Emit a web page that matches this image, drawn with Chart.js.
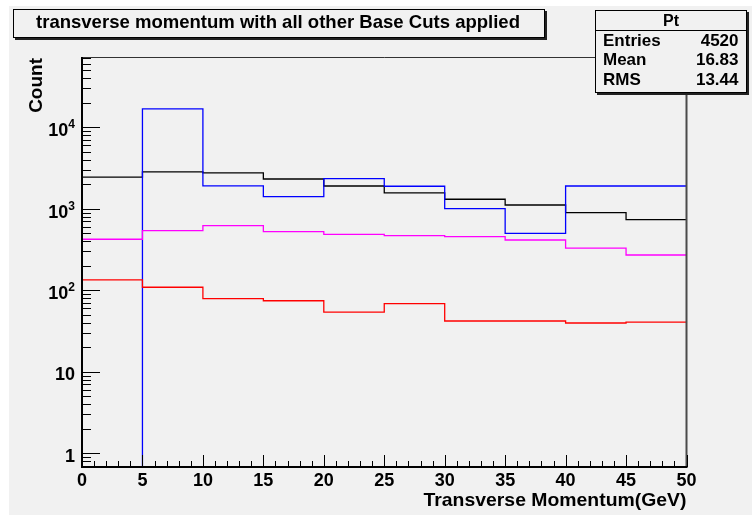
<!DOCTYPE html>
<html>
<head>
<meta charset="utf-8">
<script src="https://cdn.jsdelivr.net/npm/chart.js@4.4.1/dist/chart.umd.min.js"></script>
<style>
  html, body { margin: 0; padding: 0; background: #fff; }
  canvas { display: block; }
</style>
</head>
<body>
<canvas id="pt" width="752" height="515"></canvas>
<script>
// Pt distributions, 5 GeV bins
const binEdges = [0, 5, 10, 15, 20, 25, 30, 35, 40, 45, 50];
const blackCounts = [2440, 2830, 2760, 2320, 1905, 1565, 1310, 1113, 896, 735];
const blueCounts = [0, 16800, 1910, 1410, 2340, 1890, 1003, 500, 1905, 1905];
const magentaCounts = [423, 539, 620, 524, 486, 468, 455, 414, 330, 271];
const redCounts = [134, 109, 79, 74.5, 54, 68.5, 42, 42, 39.7, 40.8];

const xTickValues = [0, 5, 10, 15, 20, 25, 30, 35, 40, 45, 50];
const yDecades = [1, 10, 100, 1000, 10000];
const yMin = 0.68;
const yMax = 72800;

const titleText = 'transverse momentum with all other Base Cuts applied';
const xTitle = 'Transverse Momentum(GeV)';
const yTitle = 'Count';
const statsName = 'Pt';
const statsLabels = ['Entries', 'Mean', 'RMS'];
const statsValues = ['4520', '16.83', '13.44'];

const FONT = '"Liberation Sans", Arial, Helvetica, sans-serif';

// left edge of each bin plus a closing point at the last edge
function histPoints(counts) {
    const pts = counts.map((c, i) => ({ x: binEdges[i], y: Math.max(c, yMin) }));
    pts.push({ x: binEdges[binEdges.length - 1], y: Math.max(counts[counts.length - 1], yMin) });
    return pts;
}

function histDataset(counts, color) {
    return {
        data: histPoints(counts),
        borderColor: color,
        borderWidth: 1.3,
        stepped: 'before',
        pointRadius: 0,
        fill: false
    };
}

// text stretched or squeezed to a given width
function fitText(ctx, text, x, y, width, align) {
    const w = ctx.measureText(text).width;
    const sx = width / w;
    ctx.save();
    ctx.translate(x, y);
    ctx.scale(sx, 1);
    ctx.textAlign = align;
    ctx.fillText(text, 0, 0);
    ctx.restore();
}

function shadowBox(ctx, x0, y0, x1, y1) {
    ctx.fillStyle = '#222';
    ctx.fillRect(x0 + 2, y0 + 2, x1 - x0, y1 - y0);
    ctx.fillStyle = '#f1f1f1';
    ctx.fillRect(x0, y0, x1 - x0, y1 - y0);
    ctx.strokeStyle = '#000';
    ctx.lineWidth = 1;
    ctx.strokeRect(x0 + 0.5, y0 + 0.5, x1 - x0 - 1, y1 - y0 - 1);
}

const rootStyle = {
    id: 'rootStyle',
    beforeDraw(chart) {
        const ctx = chart.ctx;
        ctx.save();
        ctx.fillStyle = '#fff';
        ctx.fillRect(0, 0, chart.width, chart.height);
        ctx.fillStyle = '#f1f1f1';
        ctx.fillRect(9, 6, chart.width - 9, chart.height - 6);
        ctx.restore();
    },
    afterDraw(chart) {
        const ctx = chart.ctx;
        const area = chart.chartArea;
        const xs = chart.scales.x;
        const ys = chart.scales.y;
        ctx.save();

        // frame
        ctx.strokeStyle = '#333';
        ctx.lineWidth = 1;
        ctx.beginPath();
        ctx.moveTo(area.left, area.top + 0.5);
        ctx.lineTo(area.right, area.top + 0.5);
        ctx.stroke();
        ctx.strokeStyle = '#4a4a4a';
        ctx.lineWidth = 2;
        ctx.beginPath();
        ctx.moveTo(area.right, area.top);
        ctx.lineTo(area.right, area.bottom);
        ctx.stroke();
        ctx.strokeStyle = '#000';
        ctx.beginPath();
        ctx.moveTo(area.left, area.top);
        ctx.lineTo(area.left, area.bottom);
        ctx.lineTo(area.right + 1, area.bottom);
        ctx.stroke();

        // y ticks, decades and 2..9 minors
        ctx.lineWidth = 1;
        ctx.beginPath();
        for (let e = -1; e <= 4; e++) {
            for (let k = 1; k <= 9; k++) {
                const v = k * Math.pow(10, e);
                if (v < yMin || v > yMax) continue;
                const py = Math.round(ys.getPixelForValue(v)) + 0.5;
                const len = k === 1 ? 18 : 9;
                ctx.moveTo(area.left, py);
                ctx.lineTo(area.left + len, py);
            }
        }
        // x ticks every 1, long every 5
        for (let v = 0; v <= 50; v++) {
            const px = Math.round(xs.getPixelForValue(v)) + 0.5;
            const len = v % 5 === 0 ? 12 : 6;
            ctx.moveTo(px, area.bottom);
            ctx.lineTo(px, area.bottom - len);
        }
        ctx.stroke();

        // tick labels
        ctx.fillStyle = '#000';
        ctx.textBaseline = 'alphabetic';
        ctx.font = 'bold 18px ' + FONT;
        ctx.textAlign = 'center';
        xTickValues.forEach(v => {
            ctx.fillText(String(v), xs.getPixelForValue(v), area.bottom + 19);
        });
        yDecades.forEach(v => {
            const py = ys.getPixelForValue(v);
            const right = area.left - 7;
            ctx.font = 'bold 18px ' + FONT;
            if (v < 100) {
                ctx.textAlign = 'right';
                ctx.fillText(String(v), right, py + 8.5);
            } else {
                const exp = String(Math.round(Math.log10(v)));
                ctx.font = 'bold 12px ' + FONT;
                const ew = ctx.measureText(exp).width;
                ctx.textAlign = 'right';
                ctx.fillText(exp, right, py + 1);
                ctx.font = 'bold 18px ' + FONT;
                ctx.fillText('10', right - ew, py + 9);
            }
        });

        // axis titles
        ctx.font = 'bold 19px ' + FONT;
        fitText(ctx, xTitle, area.right, area.bottom + 39, 263, 'right');
        ctx.save();
        ctx.translate(42, area.top + 1);
        ctx.rotate(-Math.PI / 2);
        ctx.textAlign = 'right';
        ctx.fillText(yTitle, 0, 0);
        ctx.restore();

        // title box
        shadowBox(ctx, 13, 9, 545, 38);
        ctx.fillStyle = '#000';
        ctx.font = 'bold 18.5px ' + FONT;
        fitText(ctx, titleText, 278, 28, 484, 'center');

        // stats box
        shadowBox(ctx, 595, 10, 747, 93);
        ctx.strokeStyle = '#000';
        ctx.lineWidth = 1;
        ctx.beginPath();
        ctx.moveTo(595, 30.5);
        ctx.lineTo(747, 30.5);
        ctx.stroke();
        ctx.fillStyle = '#000';
        ctx.font = 'bold 16px ' + FONT;
        ctx.textAlign = 'center';
        ctx.fillText(statsName, 671, 26);
        ctx.font = 'bold 17px ' + FONT;
        statsLabels.forEach((lab, i) => {
            const by = 45.5 + i * 19.7;
            ctx.textAlign = 'left';
            ctx.fillText(lab, 603, by);
            ctx.textAlign = 'right';
            ctx.fillText(statsValues[i], 738.5, by);
        });

        ctx.restore();
    }
};

new Chart(document.getElementById('pt'), {
    type: 'line',
    data: {
        datasets: [
            histDataset(redCounts, '#ff0000'),
            histDataset(magentaCounts, '#ff00ff'),
            histDataset(blueCounts, '#0000ff'),
            histDataset(blackCounts, '#000000')
        ]
    },
    options: {
        responsive: false,
        devicePixelRatio: 1,
        animation: false,
        layout: { padding: { left: 82, right: 65.5, top: 57, bottom: 48 } },
        plugins: { legend: { display: false }, tooltip: { enabled: false } },
        scales: {
            x: { type: 'linear', min: 0, max: 50, display: false },
            y: { type: 'logarithmic', min: yMin, max: yMax, display: false }
        }
    },
    plugins: [rootStyle]
});
</script>
</body>
</html>
